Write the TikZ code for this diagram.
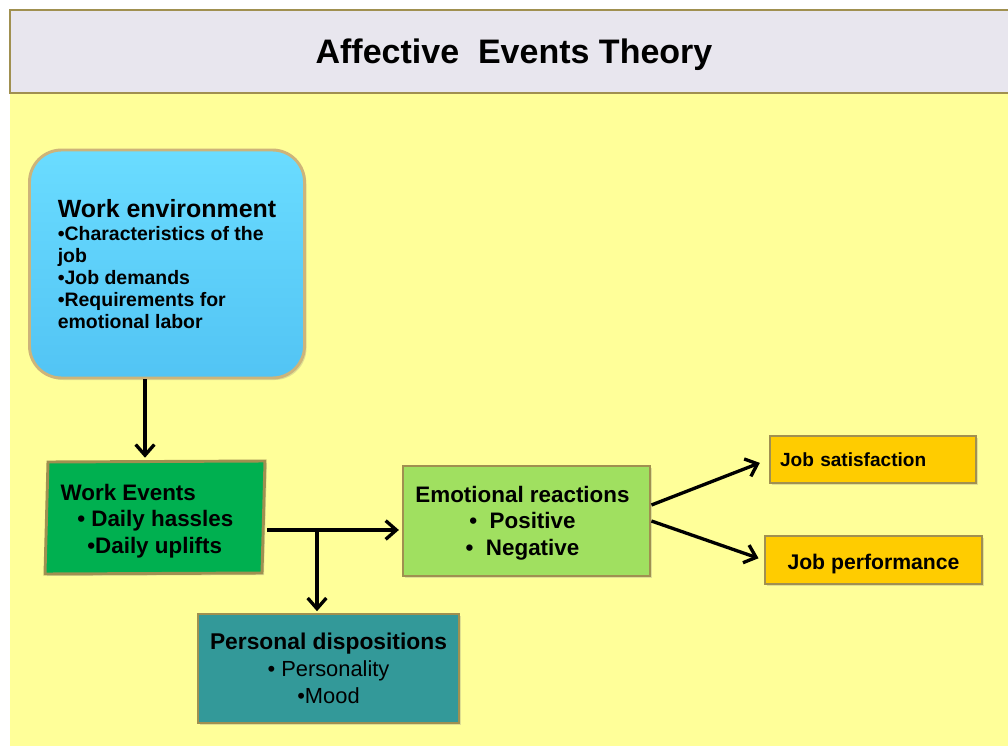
\documentclass[tikz,border=0pt]{standalone}
\usepackage{fontspec}
\setmainfont{Liberation Sans}
\usetikzlibrary{arrows.meta,shadows}

\definecolor{panel}{HTML}{FFFF99}
\definecolor{band}{HTML}{E8E6EE}
\definecolor{rim}{HTML}{A09050}
\definecolor{envtop}{HTML}{6ADCFF}
\definecolor{envbot}{HTML}{52C4F4}
\definecolor{envrim}{HTML}{CDB47A}
\definecolor{evgreen}{HTML}{00B050}
\definecolor{emogreen}{HTML}{A0E060}
\definecolor{gold}{HTML}{FFCC00}
\definecolor{teal}{HTML}{339999}

\tikzset{
  box/.style={draw=rim, line width=2.2pt, inner sep=0pt},
  soft/.style={drop shadow={shadow xshift=1.5pt, shadow yshift=-1.5pt, opacity=.25}},
  conn/.style={line width=2.5pt, -{Straight Barb[length=8pt,width=14pt]}},
}

\begin{document}
\begin{tikzpicture}[x=0.75pt, y=-0.75pt]
\useasboundingbox (0,0) rectangle (1008,746);
\fill[white] (0,0) rectangle (1008,746);

% background panel and title band
\fill[panel] (10,94) rectangle (1008,746);
\draw[line width=2.2pt, draw=rim, fill=band] (10,10) rectangle (1014,93);
\node[font=\bfseries\fontsize{25.5}{30}\selectfont] (title) at (514,55) {Affective\ \ Events Theory};

% work environment
\node[box, draw=envrim, soft, rounded corners=24pt, top color=envtop, bottom color=envbot,
      minimum width={275*0.75pt}, minimum height={228*0.75pt},
      align=left, font=\bfseries\fontsize{14.6}{16.5}\selectfont] (env) at (167,264)
  {{\fontsize{18.7}{18}\selectfont Work environment}\\[1pt]
   •Characteristics of the\\ job\\ •Job demands\\ •Requirements for\\ emotional labor};

% work events (slightly skewed box)
\node[minimum width={218*0.75pt}, minimum height={112*0.75pt}, inner sep=0pt] (events) at (155,518) {};
\draw[box, fill=evgreen, soft] (48,462) -- (265,461) -- (262,573) -- (45,574) -- cycle;
\node[align=left, font=\bfseries\fontsize{16.8}{20}\selectfont] (eventstext) at (147,521)
  {Work Events\\ \hspace{12.5pt}• Daily hassles\\ \hspace{20pt}•Daily uplifts};

% emotional reactions
\node[box, soft, fill=emogreen, minimum width={247*0.75pt}, minimum height={110*0.75pt},
      text height=0pt, text depth=0pt] (emotion) at (526.5,521) {};
\node[align=center, font=\bfseries\fontsize{16.8}{20}\selectfont] (emotiontext) at (522.5,523)
  {Emotional reactions\\ •\ \ Positive\\ •\ \ Negative};

% outcomes
\node[box, soft, fill=gold, minimum height={47*0.75pt}, inner xsep=7.5pt,
      text width={186*0.75pt}, align=left, font=\bfseries\fontsize{14.3}{17}\selectfont] (sat) at (873,459.5)
  {Job satisfaction};
\node[box, soft, fill=gold, minimum width={217*0.75pt}, minimum height={48*0.75pt},
      text height=17pt, text depth=3pt, font=\bfseries\fontsize{15.9}{18}\selectfont] (perf) at (873.5,560)
  {Job performance};

% personal dispositions
\node[box, soft, fill=teal, minimum width={261*0.75pt}, minimum height={109*0.75pt},
      align=center, font=\fontsize{16.4}{20}\selectfont] (dispo) at (328.5,668.5)
  {{\bfseries\fontsize{17.1}{20}\selectfont Personal dispositions}\\ • Personality\\ •Mood};

% connectors
\coordinate (split) at (317,530);
\draw[conn, shorten >=3pt] ([xshift=-16.5pt]env.south) -- ([xshift=-7.5pt]events.north);
\draw[conn, shorten <=2pt, shorten >=2pt] (events.east |- split) -- (emotion.west |- split);
\draw[conn, shorten >=1pt] (split) -- (split |- dispo.north);
\draw[conn, shorten >=7pt] ([yshift=12pt]emotion.east) -- (sat.west);
\draw[conn, shorten >=4pt] (emotion.east) -- (perf.west);
\end{tikzpicture}
\end{document}
